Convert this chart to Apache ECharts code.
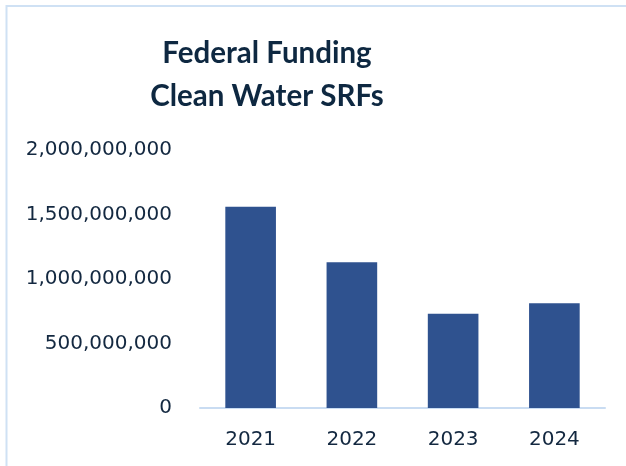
<!DOCTYPE html>
<html>
<head>
<meta charset="utf-8">
<script src="https://cdn.jsdelivr.net/npm/echarts@6/dist/echarts.min.js"></script>
<style>
  html, body { margin: 0; padding: 0; background: #ffffff; }
  #chart { width: 626px; height: 466px; }
</style>
</head>
<body>
<div id="chart"></div>
<script>
// Federal funding for the Clean Water State Revolving Funds, by year
const years = ['2021', '2022', '2023', '2024'];
const funding = [1560000000, 1130000000, 730000000, 812000000];
const titleLines = ['Federal Funding', 'Clean Water SRFs'];
const yTicks = { min: 0, max: 2000000000, interval: 500000000 };

const textColor = '#132840';
const chart = echarts.init(document.getElementById('chart'), null, { renderer: 'canvas' });

chart.setOption({
  animation: false,
  backgroundColor: '#ffffff',
  grid: { left: 200, right: 21, top: 150, bottom: 58, containLabel: false },
  graphic: [
    {
      type: 'polyline',
      shape: { points: [[6.5, 466], [6.5, 6], [626, 6]] },
      style: { stroke: '#cfe1f4', lineWidth: 2, fill: null },
      silent: true
    },
    {
      type: 'text', x: 267, y: 53,
      style: {
        text: titleLines[0], fill: '#0e2841',
        font: 'bold 29.5px Lato', align: 'center', verticalAlign: 'middle'
      }
    },
    {
      type: 'text', x: 267, y: 96,
      style: {
        text: titleLines[1], fill: '#0e2841',
        font: 'bold 29.5px Lato', align: 'center', verticalAlign: 'middle'
      }
    }
  ],
  xAxis: {
    type: 'category',
    data: years,
    axisLine: { show: true, lineStyle: { color: '#c9dcf2', width: 2 } },
    axisTick: { show: false },
    axisLabel: {
      color: textColor, fontFamily: 'DejaVu Sans', fontSize: 20, margin: 22
    },
    splitLine: { show: false }
  },
  yAxis: {
    type: 'value',
    min: yTicks.min,
    max: yTicks.max,
    interval: yTicks.interval,
    axisLine: { show: false },
    axisTick: { show: false },
    splitLine: { show: false },
    axisLabel: {
      color: textColor, fontFamily: 'DejaVu Sans', fontSize: 20, margin: 28,
      formatter: v => v.toLocaleString('en-US')
    }
  },
  series: [{
    type: 'bar',
    data: funding,
    barWidth: '50%',
    itemStyle: { color: '#2f528f' }
  }]
});
</script>
</body>
</html>
